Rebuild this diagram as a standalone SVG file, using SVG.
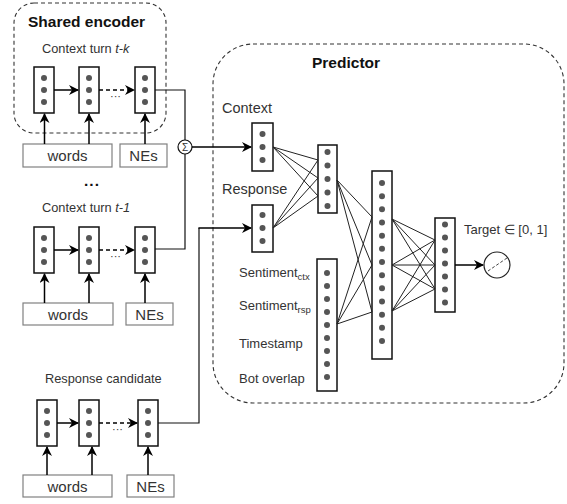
<svg xmlns="http://www.w3.org/2000/svg" width="567" height="504" viewBox="0 0 567 504">
<defs>
<marker id="ah" viewBox="0 0 10 10" refX="9" refY="5" markerWidth="10" markerHeight="10" markerUnits="userSpaceOnUse" orient="auto">
<path d="M0,0 L10,5 L0,10 L3,5 z" fill="#000"/>
</marker>
<style>
.t{font-family:"Liberation Sans",Arial,sans-serif;fill:#333}
.b{font-family:"Liberation Sans",Arial,sans-serif;font-weight:bold;fill:#111;font-size:15.5px}
.s{font-size:12.8px}
.m{font-size:14.5px}
.bx{fill:#fff;stroke:#808080;stroke-width:1.2}
.c{fill:#fff;stroke:#111;stroke-width:1.5}
.d{fill:#555}
.ln{fill:none;stroke:#111;stroke-width:1.2}
.ar{fill:none;stroke:#000;stroke-width:1.5;marker-end:url(#ah)}
.da{fill:none;stroke:#000;stroke-width:1.5;stroke-dasharray:4 3;marker-end:url(#ah)}
.grp{fill:none;stroke:#333;stroke-width:1.1;stroke-dasharray:4 3}
.fan{stroke:#222;stroke-width:1}
</style>
</defs>

<g id="shared-encoder">
<rect class="grp" x="14" y="3" width="152" height="130" rx="20"/>
<text class="b" x="28" y="27">Shared encoder</text>
</g>

<g id="predictor">
<rect class="grp" x="213" y="44" width="351" height="359" rx="40"/>
<text class="b" x="312" y="68">Predictor</text>
</g>

<g id="turn-tk">
<text class="t s" x="42" y="53">Context turn <tspan font-style="italic">t-k</tspan></text>
<rect class="c" x="34" y="67" width="20" height="46"/>
<circle class="d" cx="44" cy="78" r="3"/><circle class="d" cx="44" cy="90" r="3"/><circle class="d" cx="44" cy="102" r="3"/>
<rect class="c" x="79" y="67" width="20" height="46"/>
<circle class="d" cx="89" cy="78" r="3"/><circle class="d" cx="89" cy="90" r="3"/><circle class="d" cx="89" cy="102" r="3"/>
<rect class="c" x="135" y="67" width="20" height="46"/>
<circle class="d" cx="145" cy="78" r="3"/><circle class="d" cx="145" cy="90" r="3"/><circle class="d" cx="145" cy="102" r="3"/>
<text class="t" x="110" y="100" font-size="11" fill="#555">···</text>
<rect class="bx" x="23" y="144" width="89" height="23"/>
<text class="t" x="67.5" y="161" font-size="15" text-anchor="middle">words</text>
<rect class="bx" x="120" y="144" width="47" height="23"/>
<text class="t" x="143.5" y="161" font-size="15" text-anchor="middle">NEs</text>
</g>

<g id="more-turns">
<text class="b" x="92" y="186" text-anchor="middle" font-size="18" letter-spacing="1">...</text>
</g>

<g id="turn-t1">
<text class="t s" x="42" y="212">Context turn <tspan font-style="italic">t-1</tspan></text>
<rect class="c" x="34" y="227" width="20" height="46"/>
<circle class="d" cx="44" cy="238" r="3"/><circle class="d" cx="44" cy="250" r="3"/><circle class="d" cx="44" cy="262" r="3"/>
<rect class="c" x="79" y="227" width="20" height="46"/>
<circle class="d" cx="89" cy="238" r="3"/><circle class="d" cx="89" cy="250" r="3"/><circle class="d" cx="89" cy="262" r="3"/>
<rect class="c" x="135" y="227" width="20" height="46"/>
<circle class="d" cx="145" cy="238" r="3"/><circle class="d" cx="145" cy="250" r="3"/><circle class="d" cx="145" cy="262" r="3"/>
<text class="t" x="110" y="260" font-size="11" fill="#555">···</text>
<rect class="bx" x="23" y="303" width="90" height="22"/>
<text class="t" x="68" y="320" font-size="15" text-anchor="middle">words</text>
<rect class="bx" x="126" y="303" width="47" height="22"/>
<text class="t" x="149.5" y="320" font-size="15" text-anchor="middle">NEs</text>
</g>

<g id="response-candidate">
<text class="t s" x="45" y="383">Response candidate</text>
<rect class="c" x="37" y="400" width="20" height="46"/>
<circle class="d" cx="47" cy="411" r="3"/><circle class="d" cx="47" cy="423" r="3"/><circle class="d" cx="47" cy="435" r="3"/>
<rect class="c" x="79" y="400" width="20" height="46"/>
<circle class="d" cx="89" cy="411" r="3"/><circle class="d" cx="89" cy="423" r="3"/><circle class="d" cx="89" cy="435" r="3"/>
<rect class="c" x="138" y="400" width="20" height="46"/>
<circle class="d" cx="148" cy="411" r="3"/><circle class="d" cx="148" cy="423" r="3"/><circle class="d" cx="148" cy="435" r="3"/>
<text class="t" x="112" y="433" font-size="11" fill="#555">···</text>
<rect class="bx" x="23" y="475" width="89" height="22"/>
<text class="t" x="67.5" y="492" font-size="15" text-anchor="middle">words</text>
<rect class="bx" x="127" y="475" width="47" height="22"/>
<text class="t" x="150.5" y="492" font-size="15" text-anchor="middle">NEs</text>
</g>

<g id="sum">
<circle cx="185" cy="147" r="7" fill="#fff" stroke="#111" stroke-width="1.2"/>
<text class="t" x="185" y="151" font-size="10" text-anchor="middle" fill="#111">Σ</text>
</g>

<g id="context-input">
<text class="t m" x="222" y="113">Context</text>
<rect class="c" x="252" y="123" width="21" height="48"/>
<circle class="d" cx="262.5" cy="134" r="3"/><circle class="d" cx="262.5" cy="147" r="3"/><circle class="d" cx="262.5" cy="160" r="3"/>
</g>

<g id="response-input">
<text class="t m" x="222" y="194">Response</text>
<rect class="c" x="252" y="205" width="21" height="47"/>
<circle class="d" cx="262.5" cy="215" r="3"/><circle class="d" cx="262.5" cy="228" r="3"/><circle class="d" cx="262.5" cy="241" r="3"/>
</g>

<g id="hidden-1">
<rect class="c" x="318" y="145" width="19" height="68"/>
<circle class="d" cx="327.5" cy="152" r="3"/><circle class="d" cx="327.5" cy="165.5" r="3"/><circle class="d" cx="327.5" cy="179" r="3"/><circle class="d" cx="327.5" cy="192.5" r="3"/><circle class="d" cx="327.5" cy="206" r="3"/>
</g>

<g id="features">
<text class="t" x="239" y="277" font-size="13">Sentiment<tspan font-size="9.5" dy="3">ctx</tspan></text>
<text class="t" x="239" y="310" font-size="13">Sentiment<tspan font-size="9.5" dy="3">rsp</tspan></text>
<text class="t" x="239" y="348" font-size="13">Timestamp</text>
<text class="t" x="239" y="383" font-size="13">Bot overlap</text>
<rect class="c" x="317" y="259" width="20" height="132"/>
<circle class="d" cx="327" cy="273" r="3"/><circle class="d" cx="327" cy="286" r="3"/><circle class="d" cx="327" cy="299" r="3"/><circle class="d" cx="327" cy="312" r="3"/><circle class="d" cx="327" cy="325" r="3"/><circle class="d" cx="327" cy="338" r="3"/><circle class="d" cx="327" cy="351" r="3"/><circle class="d" cx="327" cy="364" r="3"/><circle class="d" cx="327" cy="377" r="3"/>
</g>

<g id="hidden-2">
<rect class="c" x="372" y="171" width="20" height="188"/>
<circle class="d" cx="382" cy="183" r="3"/><circle class="d" cx="382" cy="196.2" r="3"/><circle class="d" cx="382" cy="209.3" r="3"/><circle class="d" cx="382" cy="222.5" r="3"/><circle class="d" cx="382" cy="235.7" r="3"/><circle class="d" cx="382" cy="248.8" r="3"/><circle class="d" cx="382" cy="262" r="3"/><circle class="d" cx="382" cy="275.2" r="3"/><circle class="d" cx="382" cy="288.3" r="3"/><circle class="d" cx="382" cy="301.5" r="3"/><circle class="d" cx="382" cy="314.7" r="3"/><circle class="d" cx="382" cy="327.8" r="3"/><circle class="d" cx="382" cy="341" r="3"/>
</g>

<g id="hidden-3">
<rect class="c" x="435" y="218" width="20" height="94"/>
<circle class="d" cx="445" cy="224.5" r="3"/><circle class="d" cx="445" cy="237.5" r="3"/><circle class="d" cx="445" cy="250.5" r="3"/><circle class="d" cx="445" cy="263.5" r="3"/><circle class="d" cx="445" cy="276.5" r="3"/><circle class="d" cx="445" cy="289.5" r="3"/><circle class="d" cx="445" cy="302.5" r="3"/>
</g>

<g id="target">
<text class="t" x="464" y="234" font-size="13">Target ∈ [0, 1]</text>
<circle cx="497" cy="265" r="13" fill="#fff" stroke="#222" stroke-width="1.2"/>
<path d="M488,271 L507,258" stroke="#444" stroke-width="1" stroke-dasharray="3 2" fill="none"/>
</g>

<g id="connectors">
<path class="ar" d="M54,90 L78,90"/>
<path class="da" d="M99,90 L134,90"/>
<path class="ar" d="M44.5,144 L44.5,114"/>
<path class="ar" d="M89,144 L89,114"/>
<path class="ar" d="M145,144 L145,114"/>

<path class="ar" d="M54,250 L78,250"/>
<path class="da" d="M99,250 L134,250"/>
<path class="ar" d="M44.5,303 L44.5,274"/>
<path class="ar" d="M89,303 L89,274"/>
<path class="ar" d="M145,303 L145,274"/>

<path class="ar" d="M57,423 L78,423"/>
<path class="da" d="M99,423 L137,423"/>
<path class="ar" d="M47,475 L47,447"/>
<path class="ar" d="M92,475 L92,447"/>
<path class="ar" d="M148,475 L148,447"/>

<path class="ln" d="M155,90 L185,90 L185,140"/>
<path class="ln" d="M185,154 L185,249 L155,249"/>
<path class="ar" d="M192,147 L251,147"/>
<path class="ln" d="M158,423 L199,423 L199,228"/>
<path class="ar" d="M198.4,228 L251,228"/>

<g class="fan">
<line x1="273" y1="147" x2="318" y2="160"/><line x1="273" y1="147" x2="318" y2="178"/><line x1="273" y1="147" x2="318" y2="196"/>
<line x1="273" y1="228" x2="318" y2="160"/><line x1="273" y1="228" x2="318" y2="178"/><line x1="273" y1="228" x2="318" y2="196"/>
<line x1="337" y1="180" x2="372" y2="217"/><line x1="337" y1="180" x2="372" y2="265"/><line x1="337" y1="180" x2="372" y2="312"/>
<line x1="337" y1="324" x2="372" y2="217"/><line x1="337" y1="324" x2="372" y2="265"/><line x1="337" y1="324" x2="372" y2="312"/>
<line x1="392" y1="219" x2="435" y2="240"/><line x1="392" y1="219" x2="435" y2="265"/><line x1="392" y1="219" x2="435" y2="289"/>
<line x1="392" y1="265" x2="435" y2="240"/><line x1="392" y1="265" x2="435" y2="265"/><line x1="392" y1="265" x2="435" y2="289"/>
<line x1="392" y1="311" x2="435" y2="240"/><line x1="392" y1="311" x2="435" y2="265"/><line x1="392" y1="311" x2="435" y2="289"/>
</g>
<path class="ar" d="M455,265 L483,265"/>
</g>
</svg>
